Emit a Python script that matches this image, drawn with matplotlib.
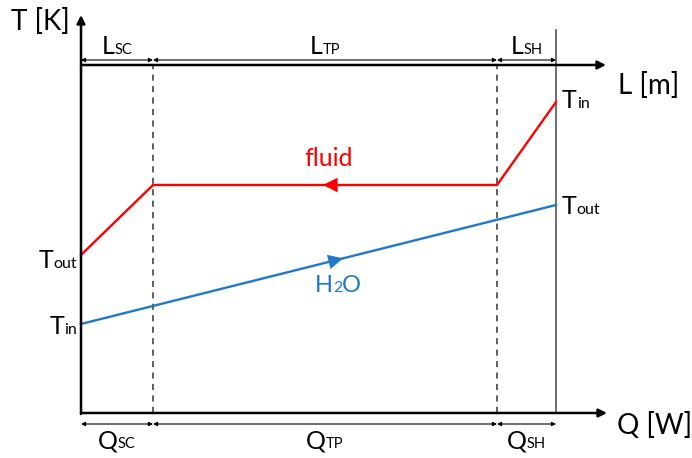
import matplotlib
matplotlib.use('Agg')
import matplotlib.pyplot as plt
import numpy as np
from matplotlib.offsetbox import TextArea, HPacker, AnnotationBbox

plt.rcParams['font.family'] = ['Lato', 'DejaVu Sans']

# Schematic data (Q along x, T along y, arbitrary units)
q_bounds = [0, 72, 416, 475]            # start, SC/TP, TP/SH, end
q_end = 526                             # arrow tip of Q axis
t_top = 398                             # arrow tip of T axis
t_laxis = 348                           # height of L axis
fluid_q = [0, 72, 416, 475]
fluid_t = [158, 228, 228, 311]
water_q = [0, 475]
water_t = [89, 208]
sections = ['SC', 'TP', 'SH']

red = '#FF0000'
blue = '#1E78CC'

fig = plt.figure(figsize=(6.92, 4.58), dpi=100)
ax = fig.add_axes([0, 0, 1, 1])
ax.set_xlim(-81, 611)
ax.set_ylim(-45, 413)
ax.axis('off')


def arrow(x0, y0, x1, y1, lw=1.8, ms=12, style='-|>', color='black'):
    ax.annotate('', xy=(x1, y1), xytext=(x0, y0),
                arrowprops=dict(arrowstyle=style, lw=lw, color=color,
                                mutation_scale=ms, shrinkA=0, shrinkB=0))


def label(x, y, parts, color='black', ha=0.5):
    children = [TextArea(s, textprops=dict(size=sz, color=color)) for s, sz in parts]
    box = HPacker(children=children, align='baseline', pad=0, sep=0)
    ab = AnnotationBbox(box, (x, y), frameon=False, box_alignment=(ha, 0.5),
                        pad=0, annotation_clip=False)
    ax.add_artist(ab)


# axes
arrow(0, -1, 0, t_top)
arrow(0, 0, q_end, 0)
arrow(0, t_laxis, q_end - 1, t_laxis)

# dashed section boundaries and end line
for q in q_bounds[1:3]:
    ax.plot([q, q], [0, t_laxis], color='#333333', lw=1.1, ls=(0, (4, 3.5)))
ax.plot([q_bounds[3]] * 2, [0, 383], color='#555555', lw=1.2)

# dimension arrows
for i, s in enumerate(sections):
    a, b = q_bounds[i], q_bounds[i + 1]
    arrow(a, t_laxis + 5, b, t_laxis + 5, lw=0.8, ms=6, style='<|-|>')
    arrow(a, -11, b, -11, lw=0.8, ms=6, style='<|-|>')
    mid = (a + b) / 2
    label(mid, t_laxis + 19, [('L', 18), (s, 10.5)])
    label(mid, -28, [('Q', 18), (s, 10.5)])

# temperature profiles
ax.plot(fluid_q, fluid_t, color=red, lw=1.7, solid_joinstyle='miter')
ax.plot(water_q, water_t, color=blue, lw=1.7)

# flow direction arrows
fx = 250
arrow(fx + 8, fluid_t[1], fx - 8, fluid_t[1], lw=0.1, ms=26, color=red)
wq = 254
wt = np.interp(wq, water_q, water_t)
slope = (water_t[1] - water_t[0]) / (water_q[1] - water_q[0])
arrow(wq - 8, wt - 8 * slope, wq + 8, wt + 8 * slope, lw=0.1, ms=26, color=blue)

label(248, 255, [('fluid', 18)], color=red)
label(257, 128, [('H', 17), ('2', 11.5), ('O', 17)], color=blue)

# axis labels
ax.text(-41, 391, 'T [K]', fontsize=20, ha='center', va='center')
ax.text(568, 328, 'L [m]', fontsize=20, ha='center', va='center')
ax.text(574, -12, 'Q [W]', fontsize=20, ha='center', va='center')

# end temperatures
label(481, fluid_t[3] + 1, [('T', 18), ('in', 11.5)], ha=0)
label(481, water_t[1] - 1, [('T', 18), ('out', 11.5)], ha=0)
label(-4, fluid_t[0] - 6, [('T', 18), ('out', 11.5)], ha=1)
label(-4, water_t[0] - 3, [('T', 18), ('in', 11.5)], ha=1)

fig.savefig('out.png', dpi=100)
